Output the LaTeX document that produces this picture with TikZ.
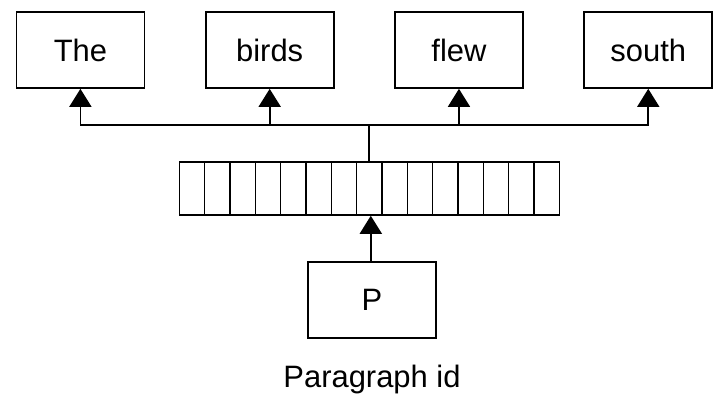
\documentclass[tikz,border=0pt]{standalone}
\usepackage{fontspec}
\setmainfont{Liberation Sans}
\usepackage{tikz}
\usetikzlibrary{positioning}
\usetikzlibrary{arrows.meta}

\begin{document}
\begin{tikzpicture}
[
    every node/.append style = {font = \fontsize{22}{26}\selectfont},
    word/.style = {draw, line width = 1.2pt, minimum width = 3.2cm, minimum height = 1.9cm, inner sep = 0pt},
    cell/.style = {draw, line width = 1.1pt, minimum width = 0.6333cm, minimum height = 1.325cm, inner sep = 0pt},
    link/.style = {line width = 1.2pt},
    tip/.style = {-{Triangle[width = 0.55cm, length = 0.45cm]}}]

\useasboundingbox (0,0) rectangle (18.2,10.2);

% words
\node[word] (the) at (2.01,8.95) {The};
\node[word, right = 1.49cm of the] (birds) {birds};
\node[word, right = 1.49cm of birds] (flew) {flew};
\node[word, right = 1.49cm of flew] (south) {south};

% paragraph vector
\foreach \i in {1,...,15}
    \node[cell] (c\i) at ({4.8 + (\i-1)*0.6333}, 5.4875) {};

% paragraph id
\node[word] (p) at (9.3,2.6925) {P};
\node[anchor = base] (pid) at ([yshift = -1.21cm]p.south) {Paragraph id};

\draw[link] (c8.north) -- ++(0,0.9) coordinate (bus);
\draw[link, tip] (bus) -| (the.south);
\draw[link, tip] (bus) -| (birds.south);
\draw[link, tip] (bus) -| (flew.south);
\draw[link, tip] (bus) -| (south.south);
\draw[link, tip] ([xshift = -0.03cm]p.north) -- ([xshift = -0.03cm]p.north |- c8.south);

\end{tikzpicture}
\end{document}
